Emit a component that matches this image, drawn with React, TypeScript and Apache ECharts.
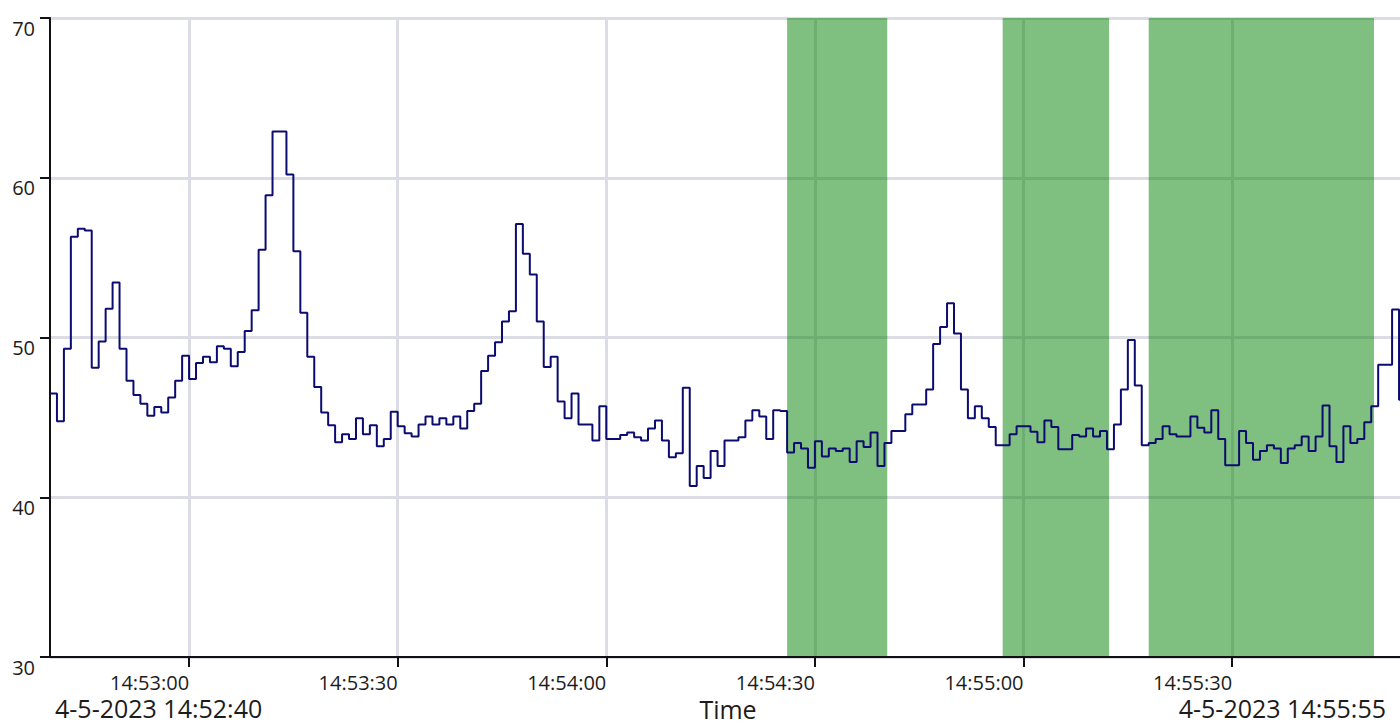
import React, { useEffect, useRef } from "react";
import * as echarts from "echarts";

const DAY = "2023-05-04";
const START_TIME = "14:52:40";
const END_TIME = "14:55:55";
const SAMPLE_SECONDS = 1;

// one sample per second, 14:52:40 ... 14:55:55
const values0 = [
  46.5, 44.75, 49.3, 56.3, 56.8, 56.7, 48.1, 49.75, 51.8, 53.45,
  49.3, 47.3, 46.4, 45.85, 45.1, 45.65, 45.3, 46.25, 47.3, 48.85,
  47.4, 48.4, 48.8, 48.45, 49.45, 49.3, 48.2, 49.1, 50.4, 51.7,
  55.5, 58.9, 62.9, 62.9, 60.2, 55.4, 51.55, 48.8, 46.9, 45.3,
  44.5, 43.45, 43.95, 43.65, 44.95, 43.95, 44.5, 43.2, 43.65, 45.35,
];
const values1 = [
  44.45, 44.0, 43.8, 44.55, 45.05, 44.55, 44.95, 44.55, 45.05, 44.3,
  45.4, 45.85, 47.9, 48.85, 49.7, 51.0, 51.65, 57.1, 55.25, 53.95,
  51.0, 48.15, 48.8, 46.0, 44.95, 46.5, 44.55, 44.55, 43.55, 45.7,
  43.65, 43.65, 43.9, 44.05, 43.75, 43.55, 44.3, 44.8, 43.55, 42.5,
  42.75, 46.85, 40.7, 41.95, 41.2, 42.9, 41.95, 43.55, 43.55, 43.75,
];
const values2 = [
  44.8, 45.45, 45.05, 43.65, 45.45, 45.4, 42.8, 43.4, 43.05, 41.85,
  43.5, 42.55, 43.05, 42.9, 43.05, 42.2, 43.5, 43.15, 44.05, 41.95,
  43.4, 44.15, 44.15, 45.2, 45.8, 45.8, 46.75, 49.6, 50.65, 52.15,
  50.25, 46.75, 44.95, 45.7, 44.95, 44.4, 43.25, 43.25, 43.95, 44.45,
  44.45, 44.1, 43.45, 44.8, 44.4, 43.0, 43.0, 43.9, 43.8, 44.3,
];
const values3 = [
  43.8, 44.15, 43.0, 44.55, 46.75, 49.85, 47.0, 43.25, 43.4, 43.65,
  44.45, 43.95, 43.8, 43.8, 45.05, 44.35, 44.05, 45.45, 43.65, 42.0,
  42.0, 44.15, 43.4, 42.35, 42.9, 43.25, 43.05, 42.15, 43.05, 43.25,
  43.8, 42.9, 43.8, 45.75, 43.2, 42.2, 44.45, 43.4, 43.65, 44.7,
  45.7, 48.3, 48.3, 51.75, 46.1, 46.1,
];

const xTickLabels = ["14:53:00", "14:53:30", "14:54:00", "14:54:30", "14:55:00", "14:55:30"];

const bandStarts = ["14:54:26.000", "14:54:57.000", "14:55:18.000"];
const bandEnds = ["14:54:40.400", "14:55:12.300", "14:55:50.400"];

const yMin = 30;
const yMax = 70;
const yStep = 10;

const startLabel = "4-5-2023 14:52:40";
const endLabel = "4-5-2023 14:55:55";
const xAxisName = "Time";

const FONT = "'Open Sans', 'Noto Sans', sans-serif";
const TEXT = "#1c1c1c";
const GRID = "#dcdce4";

const toMs = (t: string) => new Date(`${DAY}T${t}`).getTime();
const pad = (n: number) => String(n).padStart(2, "0");
const fmt = (v: number) => {
  const d = new Date(v);
  return `${pad(d.getHours())}:${pad(d.getMinutes())}:${pad(d.getSeconds())}`;
};

export default function App() {
  const ref = useRef<HTMLDivElement>(null);
  useEffect(() => {
    if (!ref.current) return;
    const chart = echarts.init(ref.current, null, { renderer: "svg" });
    const t0 = toMs(START_TIME);
    const t1 = toMs(END_TIME);
    const values = [...values0, ...values1, ...values2, ...values3];
    const data = values.map((v, i) => [t0 + i * SAMPLE_SECONDS * 1000, v]);
    const tickTimes = xTickLabels.map(toMs);
    const areas = bandStarts.map((s, i) => [{ xAxis: toMs(s) }, { xAxis: toMs(bandEnds[i]) }]);

    chart.setOption({
      animation: false,
      backgroundColor: "#ffffff",
      textStyle: { fontFamily: FONT },
      grid: { left: 50, top: 18, bottom: 65, width: 1356, outerBoundsMode: "none", containLabel: false },
      xAxis: {
        type: "value",
        min: t0,
        max: t1,
        scale: true,
        name: xAxisName,
        nameLocation: "middle",
        nameGap: 40,
        nameTextStyle: { fontSize: 25, lineHeight: 22, color: TEXT, fontFamily: FONT, verticalAlign: "top" },
        axisLine: { show: true, onZero: false, lineStyle: { color: "#111", width: 2 } },
        axisTick: { show: true, length: 10, customValues: tickTimes, lineStyle: { color: "#111", width: 2 } },
        axisLabel: {
          show: true,
          customValues: tickTimes,
          align: "right",
          margin: 16,
          fontSize: 20,
          lineHeight: 18,
          color: TEXT,
          fontFamily: FONT,
          formatter: (v: number) => fmt(v),
          hideOverlap: false,
        },
        splitLine: { show: false },
        z: 10,
      },
      yAxis: {
        type: "value",
        min: yMin,
        max: yMax,
        interval: yStep,
        axisLine: { show: true, lineStyle: { color: "#111", width: 2 } },
        axisTick: { show: true, length: 10, lineStyle: { color: "#111", width: 2 } },
        axisLabel: {
          show: true,
          margin: 15,
          fontSize: 20,
          color: TEXT,
          fontFamily: FONT,
          verticalAlign: "top",
        },
        splitLine: { show: true, lineStyle: { color: GRID, width: 3 } },
      },
      series: [
        {
          type: "line",
          name: "gridlines",
          data: [],
          z: 0,
          silent: true,
          markLine: {
            z: 0,
            silent: true,
            symbol: ["none", "none"],
            label: { show: false },
            lineStyle: { color: GRID, width: 3, type: "solid" },
            emphasis: { disabled: true },
            data: tickTimes.map((t) => ({ xAxis: t })),
          },
        },
        {
          type: "line",
          step: "end",
          data,
          showSymbol: false,
          symbol: "none",
          lineStyle: { color: "#0c0c70", width: 2 },
          markArea: {
            z: 1,
            silent: true,
            itemStyle: { color: "rgba(0,128,0,0.5)" },
            data: areas,
          },
          z: 3,
        },
      ],
      graphic: [
        {
          type: "text",
          x: 55,
          y: 708,
          style: {
            text: startLabel,
            font: `25px ${FONT}`,
            lineHeight: 22,
            fill: TEXT,
            textAlign: "left",
            textVerticalAlign: "middle",
          },
        },
        {
          type: "text",
          x: 1386,
          y: 708,
          style: {
            text: endLabel,
            font: `25px ${FONT}`,
            lineHeight: 22,
            fill: TEXT,
            textAlign: "right",
            textVerticalAlign: "middle",
          },
        },
      ],
    });
    return () => chart.dispose();
  }, []);
  return (
    <div
      ref={ref}
      style={{ position: "absolute", left: 0, top: 0, width: 1400, height: 722, background: "#fff" }}
    />
  );
}
